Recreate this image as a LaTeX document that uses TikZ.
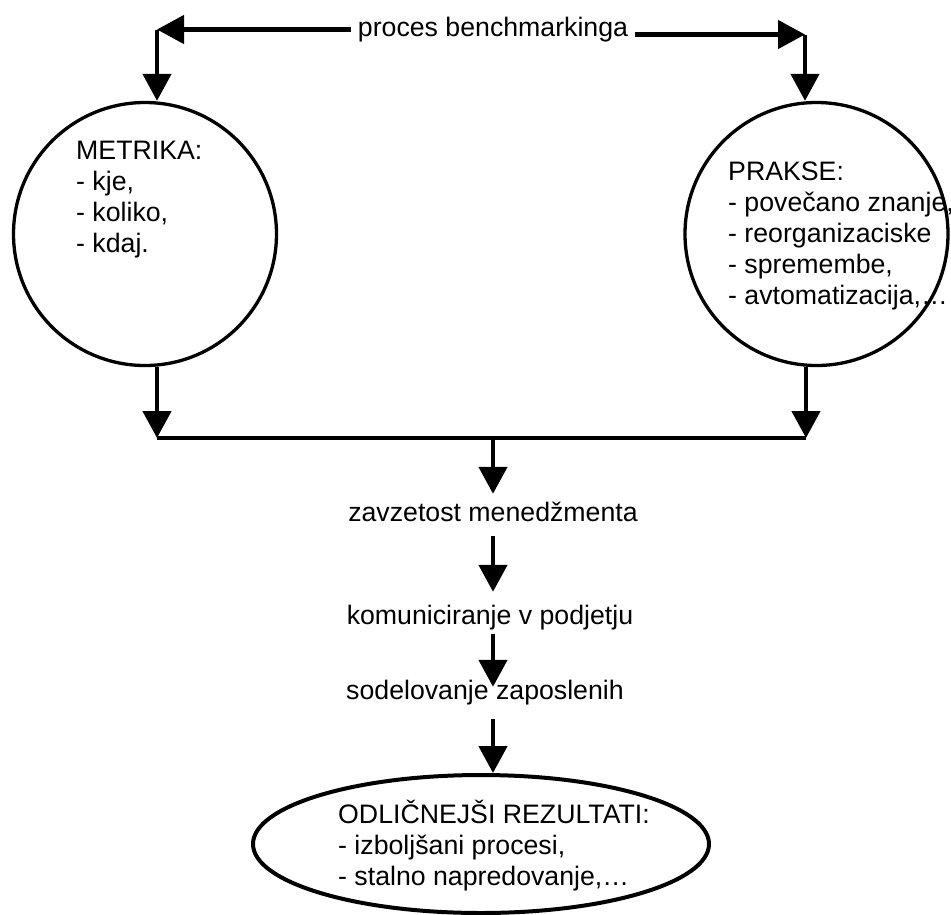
\documentclass[tikz,border=0pt]{standalone}
\usepackage{fontspec}
\setmainfont{Liberation Sans}
\usetikzlibrary{arrows.meta,shapes.geometric}
\begin{document}
\begin{tikzpicture}[x=1pt,y=-1pt,
  conn/.style={line width=4.6pt, -{Triangle[length=27pt,width=28pt]}},
  plain/.style={line width=4.6pt},
  ring/.style={circle, draw, line width=3.3pt, minimum size=263pt, inner sep=0pt},
  oval/.style={ellipse, draw, line width=4pt, minimum width=456pt, minimum height=138pt, inner sep=0pt},
  txt/.style={inner sep=0pt, font=\fontsize{26.7}{31}\selectfont},
  list/.style={txt, align=left, anchor=base west},
  flow/.style={txt, anchor=base, text height=20pt, text depth=6pt}]
\useasboundingbox (0,0) rectangle (951,914);

% shapes
\node[ring] (metrika) at (145,234) {};
\node[ring] (prakse) at (816.5,234) {};
\node[oval] (rez) at (481,844) {};

% texts (list nodes are placed by the baseline of their last line)
\node[txt, anchor=base, inner xsep=7pt] (bench) at (493,36) {proces benchmarkinga};
\node[list] (metrikatxt) at (76,252) {METRIKA:\\- kje,\\- koliko,\\- kdaj.};
\node[list] (praksetxt) at (728,304) {PRAKSE:\\- povečano znanje,\\- reorganizaciske\\- spremembe,\\- avtomatizacija,…};
\node[flow] (zavz) at (493,521) {zavzetost menedžmenta};
\node[flow] (kom) at (490,624) {komuniciranje v podjetju};
\node[flow] (sod) at (485,699) {sodelovanje zaposlenih};
\node[list] (reztxt) at (338,885) {ODLIČNEJŠI REZULTATI:\\- izboljšani procesi,\\- stalno napredovanje,…};

% corner and bus points
\coordinate (cL) at (157,29.5);
\coordinate (cR) at (805,34.5);
\coordinate (bL) at (157,438);
\coordinate (bR) at (806,438);
\coordinate (bM) at (493,438);

% top connectors
\draw[conn] (bench.west |- cL) -- (cL);
\draw[conn] (bench.east |- cR) -- (cR);
\draw[conn] (cL) -- (metrika.north -| cL);
\draw[conn] (cR) -- (prakse.north -| cR);

% from the circles to the bus
\draw[conn] (metrika.south -| bL) -- (bL);
\draw[conn] (prakse.south -| bR) -- (bR);
\draw[plain] (bL) -- (bR);

% chain down to the results
\draw[conn, shorten >=7pt] (bM) -- (zavz.north -| bM);
\draw[conn, shorten <=9pt, shorten >=12pt] (zavz.south -| bM) -- (kom.north -| bM);
\draw[conn, shorten <=4pt, shorten >=-8pt] (kom.south -| bM) -- (sod.north -| bM);
\draw[conn, shorten <=14pt] (sod.south -| bM) -- (rez.north -| bM);
\end{tikzpicture}
\end{document}
